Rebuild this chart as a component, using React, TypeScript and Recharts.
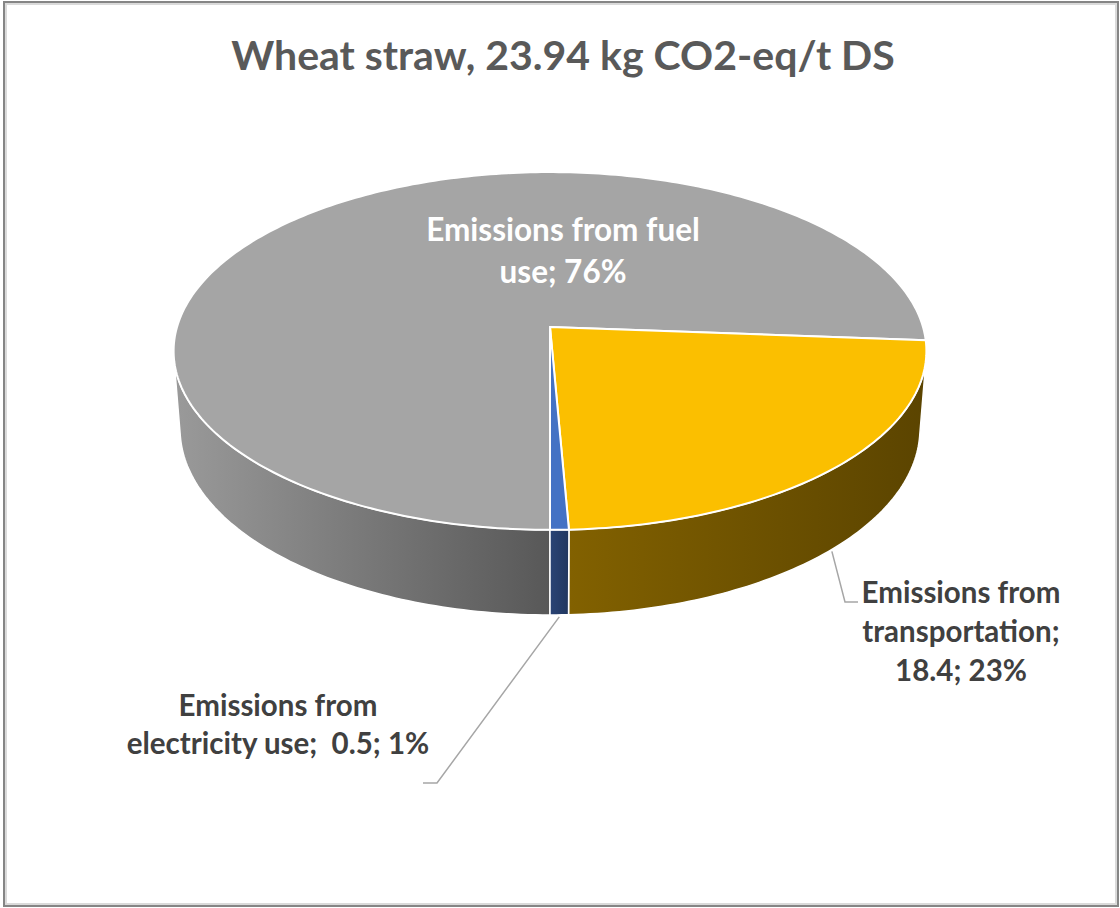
import { Pie, PieChart } from 'recharts'

const categories = ['Emissions from fuel use', 'Emissions from transportation', 'Emissions from electricity use']
const shares = [76.2, 23.1, 0.7]
const labelLines = [
  ['Emissions from fuel', 'use; 76%'],
  ['Emissions from', 'transportation;', '18.4; 23%'],
  ['Emissions from', 'electricity use;  0.5; 1%'],
]
const topColors = ['#a5a5a5', '#fbbf00', '#4472c4']
const wallColors = [['#9a9a9a', '#585858'], ['#826100', '#5b4400'], ['#2a4475', '#22375f']]

const data = categories.map((name, i) => ({ name, value: shares[i], idx: i }))

// label placement, relative to the pie centre
const LABEL_LAYOUT: any[] = [
  { dx: 13, dy: -86, color: '#ffffff', size: 31.5, lineH: 42 },
  { dx: 411, dy: 276, color: '#404040', size: 29.5, lineH: 39, knee: [295, 275], end: 308 },
  { dx: -272, dy: 389, color: '#404040', size: 29.5, lineH: 38, knee: [-113, 456], end: -127 },
]

// perspective of the 3-D pie
const SIN_A = 0.471
const COS_A = 0.882
const K = 0.134
const M = 0.0716
const DEPTH = 0.239
const RAD = Math.PI / 180
const VIS = Math.asin(K / (COS_A * COS_A)) / RAD

function proj(cx: number, cy: number, r: number, deg: number, h: number) {
  const u = Math.cos(deg * RAD)
  const v = -Math.sin(deg * RAD)
  const s = 1 / (1 - K * v + M * h)
  return [cx + r * u * s, cy + (r * SIN_A * v + r * COS_A * h) * s]
}

function rim(cx: number, cy: number, r: number, a0: number, a1: number, h: number) {
  const n = Math.max(2, Math.ceil(Math.abs(a1 - a0)))
  const pts: number[][] = []
  for (let i = 0; i <= n; i++) pts.push(proj(cx, cy, r, a0 + ((a1 - a0) * i) / n, h))
  return pts
}

const idxOf = (p: any) => (p.payload && p.payload.idx != null ? p.payload.idx : p.idx ?? 0)

function WallShape(props: any) {
  const { cx, cy, outerRadius, startAngle, endAngle } = props
  const i = idxOf(props)
  const lo = Math.min(startAngle, endAngle)
  const hi = Math.max(startAngle, endAngle)
  const parts: number[][] = []
  for (const shift of [-360, 0, 360]) {
    const a = Math.max(lo, -180 + VIS + shift)
    const b = Math.min(hi, -VIS + shift)
    if (b > a) parts.push([a, b])
  }
  const gid = `wall-grad-${i}`
  return (
    <g>
      <defs>
        <linearGradient id={gid} x1="0" y1="0" x2="1" y2="0">
          <stop offset="0%" stopColor={wallColors[i][0]} />
          <stop offset="100%" stopColor={wallColors[i][1]} />
        </linearGradient>
      </defs>
      {parts.map(([a, b], k) => {
        const top = rim(cx, cy, outerRadius, a, b, 0)
        const bot = rim(cx, cy, outerRadius, b, a, DEPTH)
        const d = 'M' + [...top, ...bot].map(p => `${p[0].toFixed(2)},${p[1].toFixed(2)}`).join('L') + 'Z'
        return <path key={k} d={d} fill={`url(#${gid})`} stroke="#ffffff" strokeWidth={1.5} strokeLinejoin="round" />
      })}
    </g>
  )
}

function TopShape(props: any) {
  const { cx, cy, outerRadius, startAngle, endAngle } = props
  const i = idxOf(props)
  const pts = rim(cx, cy, outerRadius, startAngle, endAngle, 0)
  const d = `M${cx},${cy}L` + pts.map(p => `${p[0].toFixed(2)},${p[1].toFixed(2)}`).join('L') + 'Z'
  return <path d={d} fill={topColors[i]} stroke="#ffffff" strokeWidth={2} strokeLinejoin="round" />
}

function renderLabel(props: any) {
  const { cx, cy, outerRadius, index } = props
  const mid = props.midAngle ?? (props.startAngle + props.endAngle) / 2
  const L = LABEL_LAYOUT[index]
  const x = cx + L.dx
  const y0 = cy + L.dy
  let leader = null
  if (L.knee) {
    const [sx, sy] = proj(cx, cy, outerRadius, mid, DEPTH)
    const ky = cy + L.knee[1]
    leader = (
      <polyline
        points={`${sx},${sy + 2} ${cx + L.knee[0]},${ky} ${cx + L.end},${ky}`}
        fill="none"
        stroke="#a6a6a6"
        strokeWidth={1.5}
      />
    )
  }
  return (
    <g key={`label-${index}`}>
      {leader}
      <text
        textAnchor="middle"
        fill={L.color}
        fontFamily="Lato, 'Open Sans', sans-serif"
        fontWeight={700}
        fontSize={L.size}
        style={{ whiteSpace: 'pre' }}
      >
        {labelLines[index].map((t, k) => (
          <tspan key={k} x={x} y={y0 + k * L.lineH}>{t}</tspan>
        ))}
      </text>
    </g>
  )
}

export default function App() {
  return (
    <div style={{ position: 'absolute', left: 0, top: 0, width: 1120, height: 908, background: '#ffffff' }}>
      <div
        style={{
          position: 'absolute', left: 3, top: 1, width: 1116, height: 906, boxSizing: 'border-box',
          border: '2px solid #858585', boxShadow: 'inset 0 0 0 2px #dadada'
        }}
      />
      <svg width={1120} height={100} style={{ position: 'absolute', left: 0, top: 0 }}>
        <text x={563} y={70} textAnchor="middle" fill="#595959" fontFamily="Lato, 'Open Sans', sans-serif" fontWeight={700} fontSize={41}>
          Wheat straw, 23.94 kg CO2-eq/t DS
        </text>
      </svg>
      <div style={{ position: 'absolute', left: 0, top: 0 }}>
        <PieChart width={1120} height={908} margin={{ top: 0, right: 0, bottom: 0, left: 0 }}>
          <Pie
            data={data}
            dataKey="value"
            nameKey="name"
            cx={550}
            cy={327}
            outerRadius={373}
            startAngle={270}
            endAngle={-90}
            stroke="#ffffff"
            shape={WallShape}
            inactiveShape={WallShape}
            activeShape={WallShape}
            labelLine={false}
            isAnimationActive={false}
          />
          <Pie
            data={data}
            dataKey="value"
            nameKey="name"
            cx={550}
            cy={327}
            outerRadius={373}
            startAngle={270}
            endAngle={-90}
            stroke="#ffffff"
            shape={TopShape}
            inactiveShape={TopShape}
            activeShape={TopShape}
            label={renderLabel}
            labelLine={false}
            isAnimationActive={false}
          />
        </PieChart>
      </div>
    </div>
  )
}
